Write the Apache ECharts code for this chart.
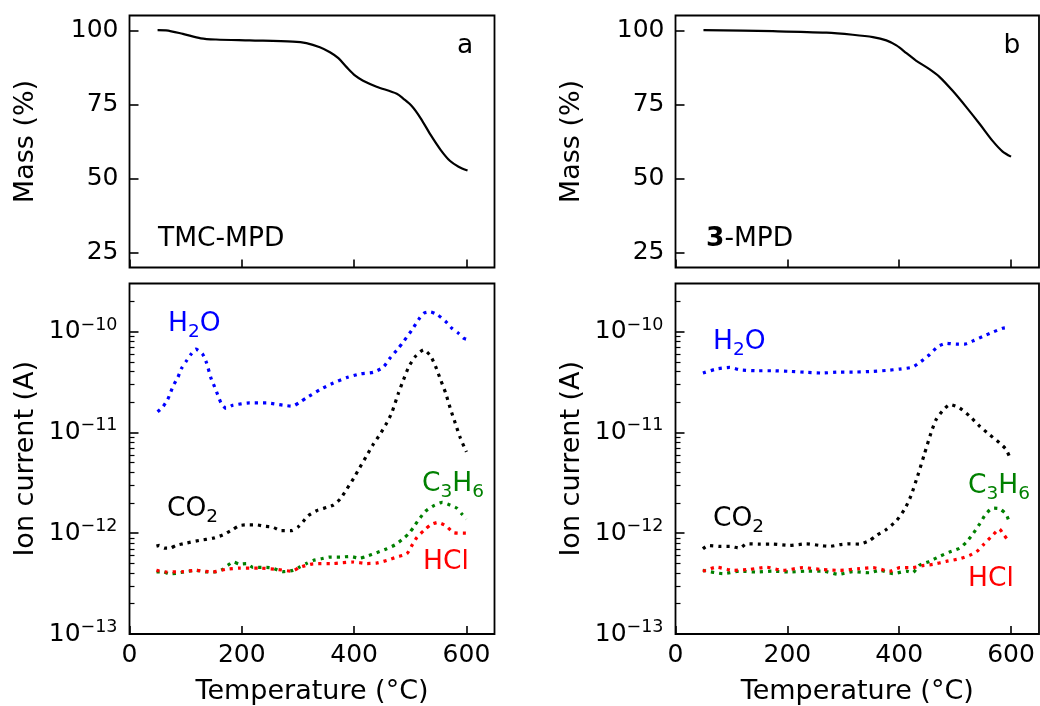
<!DOCTYPE html>
<html>
<head>
<meta charset="utf-8">
<script src="https://cdn.jsdelivr.net/npm/echarts@6/dist/echarts.min.js"></script>
<style>
  html, body { margin: 0; padding: 0; background: #fff; }
  #chart { width: 1040px; height: 706px; }
</style>
</head>
<body>
<div id="chart"></div>
<script>
// ---- data ----
// TGA mass, panel a (TMC-MPD)
const massA_T = [50, 65, 95, 127, 154, 214, 291, 315, 339, 357, 372, 387, 402, 416, 440, 476, 488, 503, 518, 536, 554, 571, 586, 602];
const massA = [100.1, 100, 98.8, 97.3, 96.9, 96.6, 96.2, 95.7, 94.3, 92.6, 90.6, 87.5, 84.7, 83, 81, 78.6, 76.9, 74.4, 70.5, 64.8, 59.7, 55.9, 54, 52.7];
// TGA mass, panel b (3-MPD)
const massB_T = [50, 174, 270, 317, 353, 377, 395, 413, 430, 454, 472, 496, 520, 544, 567, 585, 600];
const massB = [100.1, 99.7, 99.2, 98.5, 97.7, 96.6, 94.9, 92.3, 89.8, 86.9, 84.3, 79.5, 74.1, 68.4, 62.7, 59.1, 57.4];

// ion currents, panel a
const h2oA_T = [50, 59, 68, 78, 86, 93, 102, 109, 118, 130, 137, 145, 151, 157, 163, 172, 184, 214, 244, 273, 290, 303, 315, 339, 363, 387, 410, 434, 452, 464, 479, 489, 503, 515, 524, 536, 549, 563, 574, 586, 595, 600];
const h2oA = [1.6e-11, 1.78e-11, 2.12e-11, 2.91e-11, 3.5e-11, 4.35e-11, 5.17e-11, 5.9e-11, 6.7e-11, 6.0e-11, 4.94e-11, 3.47e-11, 2.88e-11, 2.37e-11, 1.96e-11, 1.73e-11, 1.86e-11, 1.96e-11, 1.96e-11, 1.86e-11, 1.82e-11, 1.99e-11, 2.2e-11, 2.65e-11, 3.09e-11, 3.5e-11, 3.8e-11, 3.94e-11, 4.44e-11, 5.46e-11, 6.85e-11, 8.1e-11, 1.04e-10, 1.32e-10, 1.52e-10, 1.57e-10, 1.46e-10, 1.26e-10, 1.08e-10, 9.6e-11, 8.6e-11, 8.4e-11];
const co2A_T = [48, 53, 62, 72, 83, 100, 124, 148, 166, 184, 196, 211, 226, 241, 255, 270, 288, 300, 309, 318, 333, 351, 363, 375, 387, 399, 410, 422, 434, 446, 458, 467, 479, 488, 497, 509, 524, 536, 545, 554, 563, 571, 580, 589, 600];
const co2A = [7.45e-13, 7.56e-13, 7.1e-13, 7.1e-13, 7.56e-13, 7.96e-13, 8.47e-13, 8.9e-13, 9.6e-13, 1.09e-12, 1.19e-12, 1.21e-12, 1.21e-12, 1.17e-12, 1.15e-12, 1.06e-12, 1.06e-12, 1.15e-12, 1.3e-12, 1.49e-12, 1.67e-12, 1.8e-12, 1.9e-12, 2.18e-12, 2.74e-12, 3.49e-12, 4.47e-12, 5.83e-12, 7.6e-12, 9.55e-12, 1.24e-11, 1.56e-11, 2.46e-11, 3.33e-11, 4.44e-11, 5.66e-11, 6.6e-11, 5.75e-11, 4.52e-11, 3.33e-11, 2.46e-11, 1.75e-11, 1.24e-11, 8.85e-12, 6.4e-12];
const c3h6A_T = [48, 59, 71, 83, 100, 118, 136, 151, 166, 175, 185, 196, 208, 220, 244, 255, 273, 291, 303, 315, 327, 342, 357, 375, 393, 410, 422, 440, 458, 473, 485, 497, 506, 515, 527, 542, 557, 571, 583, 592, 600];
const c3h6A = [4.12e-13, 4.15e-13, 3.97e-13, 4.0e-13, 4.15e-13, 4.28e-13, 4.12e-13, 4.12e-13, 4.38e-13, 4.8e-13, 5.18e-13, 4.94e-13, 5.0e-13, 4.58e-13, 4.58e-13, 4.5e-13, 4.15e-13, 4.28e-13, 4.62e-13, 5.0e-13, 5.37e-13, 5.58e-13, 5.8e-13, 5.8e-13, 5.88e-13, 5.65e-13, 5.9e-13, 6.4e-13, 7.0e-13, 7.67e-13, 8.6e-13, 9.85e-13, 1.15e-12, 1.36e-12, 1.65e-12, 1.88e-12, 2.02e-12, 1.9e-12, 1.77e-12, 1.55e-12, 1.38e-12];
const hclA_T = [48, 65, 94, 118, 148, 172, 196, 232, 262, 289, 303, 327, 363, 399, 422, 440, 458, 476, 494, 503, 512, 524, 536, 549, 563, 578, 599];
const hclA = [4.28e-13, 4.12e-13, 4.15e-13, 4.28e-13, 4.12e-13, 4.38e-13, 4.5e-13, 4.5e-13, 4.38e-13, 4.2e-13, 4.58e-13, 4.97e-13, 5.0e-13, 5.18e-13, 5.0e-13, 5.05e-13, 5.37e-13, 5.8e-13, 6.25e-13, 7.56e-13, 9.12e-13, 1.06e-12, 1.21e-12, 1.28e-12, 1.19e-12, 1.01e-12, 1.0e-12];

// ion currents, panel b
const h2oB_T = [49, 73, 97, 115, 145, 174, 204, 234, 261, 294, 323, 353, 377, 401, 424, 439, 454, 469, 484, 502, 517, 532, 549, 567, 585, 598];
const h2oB = [3.88e-11, 4.25e-11, 4.41e-11, 4.18e-11, 4.09e-11, 4.09e-11, 4.03e-11, 3.94e-11, 3.88e-11, 3.97e-11, 3.97e-11, 4.03e-11, 4.12e-11, 4.25e-11, 4.44e-11, 5.06e-11, 5.89e-11, 7.1e-11, 7.67e-11, 7.5e-11, 7.5e-11, 8.09e-11, 8.93e-11, 9.85e-11, 1.08e-10, 1.1e-10];
const co2B_T = [49, 58, 79, 97, 115, 127, 151, 174, 204, 234, 258, 276, 294, 311, 329, 347, 359, 377, 395, 410, 421, 433, 445, 457, 466, 478, 491, 508, 526, 544, 561, 579, 591, 598];
const co2B = [7.0e-13, 7.55e-13, 7.4e-13, 7.4e-13, 7.1e-13, 7.85e-13, 7.8e-13, 7.8e-13, 7.56e-13, 7.85e-13, 7.56e-13, 7.4e-13, 7.7e-13, 7.85e-13, 7.8e-13, 8.47e-13, 9.49e-13, 1.09e-12, 1.33e-12, 1.74e-12, 2.35e-12, 3.7e-12, 6.07e-12, 9.93e-12, 1.34e-11, 1.65e-11, 1.89e-11, 1.75e-11, 1.45e-11, 1.15e-11, 9.55e-12, 7.9e-12, 6.8e-12, 5.62e-12];
const c3h6B_T = [49, 85, 115, 145, 174, 204, 234, 264, 291, 317, 347, 365, 389, 413, 424, 436, 454, 472, 490, 508, 520, 532, 544, 555, 567, 579, 591, 597];
const c3h6B = [4.28e-13, 3.97e-13, 4.2e-13, 4.12e-13, 4.2e-13, 4.12e-13, 4.2e-13, 4.2e-13, 3.91e-13, 4.15e-13, 4.05e-13, 4.28e-13, 3.97e-13, 4.2e-13, 4.05e-13, 4.8e-13, 5.25e-13, 5.88e-13, 6.5e-13, 7.1e-13, 8.15e-13, 9.85e-13, 1.24e-12, 1.55e-12, 1.77e-12, 1.75e-12, 1.55e-12, 1.28e-12];
const hclB_T = [49, 73, 103, 133, 163, 192, 228, 264, 294, 329, 353, 383, 401, 424, 442, 460, 484, 508, 526, 541, 552, 567, 579, 588, 597];
const hclB = [4.2e-13, 4.6e-13, 4.28e-13, 4.38e-13, 4.6e-13, 4.28e-13, 4.55e-13, 4.35e-13, 4.28e-13, 4.45e-13, 4.55e-13, 4.2e-13, 4.55e-13, 4.55e-13, 4.77e-13, 4.9e-13, 5.25e-13, 5.58e-13, 6.03e-13, 6.75e-13, 7.85e-13, 9.5e-13, 1.1e-12, 9.5e-13, 8.15e-13];

// tick labels
const tempTicks = [0, 200, 400, 600];
const massTicks = [25, 50, 75, 100];
const ionExponents = [-13, -12, -11, -10];

// ---- chart ----
const FONT = 'DejaVu Sans';
const chart = echarts.init(document.getElementById('chart'));

const ionMax = Math.log10(3e-10);
const minorTicks = [];
ionExponents.forEach(function (e) {
  for (let k = 2; k <= 9; k++) {
    const v = e + Math.log10(k);
    if (v < ionMax) minorTicks.push(v);
  }
});

function pairs(T, V) { return T.map(function (t, i) { return [t, V[i]]; }); }
function logPairs(T, V) { return T.map(function (t, i) { return [t, Math.log10(V[i])]; }); }

const tickStyle = { color: '#000', width: 1.6 };

function xAxis(grid, withLabels) {
  return {
    type: 'value', gridIndex: grid, min: 0, max: 650,
    axisLine: { show: false },
    axisTick: { inside: true, length: 8, lineStyle: tickStyle, customValues: tempTicks },
    axisLabel: { show: withLabels, customValues: tempTicks, color: '#000', fontFamily: FONT, fontSize: 25, margin: 9 },
    splitLine: { show: false },
    name: withLabels ? 'Temperature (°C)' : '',
    nameLocation: 'middle', nameGap: 44,
    nameTextStyle: { color: '#000', fontFamily: FONT, fontSize: 27 }
  };
}

function massAxis(grid) {
  return {
    type: 'value', gridIndex: grid, min: 20, max: 105,
    axisLine: { show: false },
    axisTick: { inside: true, length: 9, lineStyle: tickStyle, customValues: massTicks },
    axisLabel: { customValues: massTicks, color: '#000', fontFamily: FONT, fontSize: 25, margin: 11 },
    splitLine: { show: false },
    name: 'Mass (%)', nameLocation: 'middle', nameGap: 90,
    nameTextStyle: { color: '#000', fontFamily: FONT, fontSize: 27 }
  };
}

function ionAxis(grid) {
  return {
    type: 'value', gridIndex: grid, min: -13, max: ionMax,
    axisLine: { show: false },
    axisTick: { inside: true, length: 9, lineStyle: tickStyle, customValues: ionExponents },
    axisLabel: {
      customValues: ionExponents, margin: 12,
      formatter: function (v) { return '{b|10}{s|−' + Math.round(-v) + '}'; },
      rich: {
        b: { color: '#000', fontFamily: FONT, fontSize: 25, lineHeight: 31, verticalAlign: 'middle' },
        s: { color: '#000', fontFamily: FONT, fontSize: 17.5, lineHeight: 17, verticalAlign: 'top' }
      }
    },
    splitLine: { show: false },
    name: 'Ion current (A)', nameLocation: 'middle', nameGap: 90,
    nameTextStyle: { color: '#000', fontFamily: FONT, fontSize: 27 }
  };
}

function minorAxis(grid) {
  return {
    type: 'value', gridIndex: grid, min: -13, max: ionMax, position: 'left',
    axisLine: { show: false },
    axisTick: { inside: true, length: 5, lineStyle: { color: '#000', width: 1.2 }, customValues: minorTicks },
    axisLabel: { show: false },
    splitLine: { show: false }
  };
}

function massSeries(T, V, xi, yi) {
  return {
    type: 'line', xAxisIndex: xi, yAxisIndex: yi, data: pairs(T, V),
    showSymbol: false, smooth: 0.3, animation: false,
    lineStyle: { color: '#000', width: 2.2 }
  };
}

function ionSeries(T, V, color, xi, yi) {
  return {
    type: 'line', xAxisIndex: xi, yAxisIndex: yi, data: logPairs(T, V),
    showSymbol: false, smooth: 0.2, animation: false,
    lineStyle: { color: color, width: 3.2, type: [3.2, 5], cap: 'butt' }
  };
}

const BLUE = '#0000ff', GREEN = '#008000', RED = '#ff0000', BLACK = '#000000';

function note(x, y, text, color, align) {
  return {
    type: 'text', x: x, y: y, silent: true,
    style: {
      text: text, fill: color, align: align || 'left', verticalAlign: 'middle',
      fontFamily: FONT, fontSize: 26.5,
      rich: {
        b: { fill: color, fontFamily: FONT, fontSize: 26.5, lineHeight: 36, verticalAlign: 'middle' },
        s: { fill: color, fontFamily: FONT, fontSize: 18.5, lineHeight: 18, verticalAlign: 'bottom' },
        bold: { fill: color, fontFamily: FONT, fontSize: 26.5, fontWeight: 'bold', lineHeight: 36, verticalAlign: 'middle' }
      }
    }
  };
}

const gridBox = { show: true, borderColor: '#000', borderWidth: 1.8, backgroundColor: 'transparent' };

chart.setOption({
  backgroundColor: '#fff',
  animation: false,
  textStyle: { fontFamily: FONT },
  grid: [
    Object.assign({ left: 129.5, top: 15.5, width: 365, height: 252 }, gridBox),
    Object.assign({ left: 129.5, top: 283.5, width: 365, height: 352 }, gridBox),
    Object.assign({ left: 675.5, top: 15.5, width: 363.5, height: 252 }, gridBox),
    Object.assign({ left: 675.5, top: 283.5, width: 363.5, height: 352 }, gridBox)
  ],
  xAxis: [xAxis(0, false), xAxis(1, true), xAxis(2, false), xAxis(3, true)],
  yAxis: [massAxis(0), ionAxis(1), massAxis(2), ionAxis(3), minorAxis(1), minorAxis(3)],
  series: [
    massSeries(massA_T, massA, 0, 0),
    massSeries(massB_T, massB, 2, 2),
    ionSeries(h2oA_T, h2oA, BLUE, 1, 1),
    ionSeries(co2A_T, co2A, BLACK, 1, 1),
    ionSeries(c3h6A_T, c3h6A, GREEN, 1, 1),
    ionSeries(hclA_T, hclA, RED, 1, 1),
    ionSeries(h2oB_T, h2oB, BLUE, 3, 3),
    ionSeries(co2B_T, co2B, BLACK, 3, 3),
    ionSeries(c3h6B_T, c3h6B, GREEN, 3, 3),
    ionSeries(hclB_T, hclB, RED, 3, 3)
  ],
  graphic: [
    note(465, 46, '{b|a}', BLACK, 'center'),
    note(1012, 46, '{b|b}', BLACK, 'center'),
    note(158, 239, '{b|TMC-MPD}', BLACK),
    note(706, 239, '{bold|3}{b|-MPD}', BLACK),
    note(168, 324, '{b|H}{s|2}{b|O}', BLUE),
    note(167, 509, '{b|CO}{s|2}', BLACK),
    note(422, 484, '{b|C}{s|3}{b|H}{s|6}', GREEN),
    note(423, 562, '{b|HCl}', RED),
    note(713, 342, '{b|H}{s|2}{b|O}', BLUE),
    note(713, 519, '{b|CO}{s|2}', BLACK),
    note(968, 486, '{b|C}{s|3}{b|H}{s|6}', GREEN),
    note(968, 579, '{b|HCl}', RED)
  ]
});
</script>
</body>
</html>
